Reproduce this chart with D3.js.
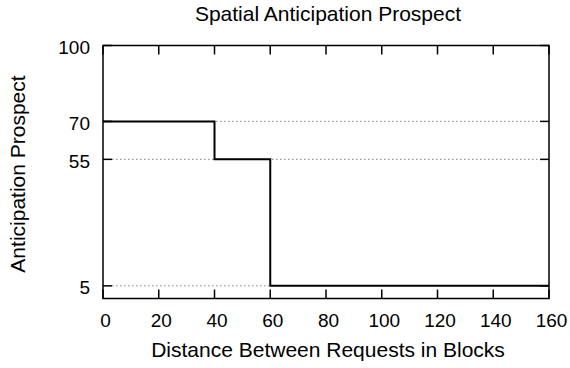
<!DOCTYPE html>
<html>
<head>
<meta charset="utf-8">
<script src="https://cdn.jsdelivr.net/npm/d3@7"></script>
<style>
  body { margin: 0; background: #fff; }
  text { font-family: 'Liberation Sans', Arial, Helvetica, sans-serif; fill: #000; }
</style>
</head>
<body>
<div id="chart"></div>
<script>
const width = 570;
const height = 368;

// step series: value holds from each x until the next one
const distance = [0, 40, 60, 160];
const prospect = [70, 55, 5, 5];

const xTicks = [0, 20, 40, 60, 80, 100, 120, 140, 160];
const yTicks = [5, 55, 70, 100];

const title = 'Spatial Anticipation Prospect';
const xLabel = 'Distance Between Requests in Blocks';
const yLabel = 'Anticipation Prospect';

const margin = { top: 45.5, right: 21, bottom: 69.5, left: 103 };
const plotW = width - margin.left - margin.right;
const plotH = height - margin.top - margin.bottom;
const tickLen = 9;

const svg = d3
  .select('#chart')
  .append('svg')
  .attr('width', width)
  .attr('height', height);

const g = svg
  .append('g')
  .attr('transform', 'translate(' + margin.left + ',' + margin.top + ')');

const x = d3.scaleLinear().domain([0, 160]).range([0, plotW]);
const y = d3.scaleLinear().domain([0, 100]).range([plotH, 0]);

// dotted grid at the y ticks (not the frame edge)
g.selectAll('.grid')
  .data(yTicks.filter((d) => d < 100))
  .enter()
  .append('line')
  .attr('class', 'grid')
  .attr('x1', tickLen)
  .attr('x2', plotW - tickLen)
  .attr('y1', (d) => y(d))
  .attr('y2', (d) => y(d))
  .attr('stroke', '#888')
  .attr('stroke-width', 1)
  .attr('stroke-dasharray', '1.5,2.5');

// ticks, all pointing inward, mirrored on the opposite side
const tickStyle = (sel) => sel.attr('stroke', '#000').attr('stroke-width', 1.5);

g.selectAll('.xtick-b')
  .data(xTicks)
  .enter()
  .append('line')
  .attr('x1', (d) => x(d))
  .attr('x2', (d) => x(d))
  .attr('y1', plotH)
  .attr('y2', plotH - tickLen)
  .call(tickStyle);

g.selectAll('.xtick-t')
  .data(xTicks)
  .enter()
  .append('line')
  .attr('x1', (d) => x(d))
  .attr('x2', (d) => x(d))
  .attr('y1', 0)
  .attr('y2', tickLen)
  .call(tickStyle);

g.selectAll('.ytick-l')
  .data(yTicks)
  .enter()
  .append('line')
  .attr('x1', 0)
  .attr('x2', tickLen)
  .attr('y1', (d) => y(d))
  .attr('y2', (d) => y(d))
  .call(tickStyle);

g.selectAll('.ytick-r')
  .data(yTicks)
  .enter()
  .append('line')
  .attr('x1', plotW)
  .attr('x2', plotW - tickLen)
  .attr('y1', (d) => y(d))
  .attr('y2', (d) => y(d))
  .call(tickStyle);

// the step line
const line = d3
  .line()
  .x((d, i) => x(distance[i]))
  .y((d) => y(d))
  .curve(d3.curveStepAfter);

g.append('path')
  .datum(prospect)
  .attr('d', line)
  .attr('fill', 'none')
  .attr('stroke', '#000')
  .attr('stroke-width', 2);

// frame
g.append('rect')
  .attr('width', plotW)
  .attr('height', plotH)
  .attr('fill', 'none')
  .attr('stroke', '#000')
  .attr('stroke-width', 1.5);

// tick labels
g.selectAll('.xlab')
  .data(xTicks)
  .enter()
  .append('text')
  .attr('x', (d) => x(d) + 2.5)
  .attr('y', plotH + 28.5)
  .attr('text-anchor', 'middle')
  .style('font-size', '19px')
  .text((d) => d);

g.selectAll('.ylab')
  .data(yTicks)
  .enter()
  .append('text')
  .attr('x', -13)
  .attr('y', (d) => y(d) + 8.5)
  .attr('text-anchor', 'end')
  .style('font-size', '19px')
  .text((d) => d);

// titles
svg.append('text')
  .attr('x', margin.left + plotW / 2 + 2)
  .attr('y', 21)
  .attr('text-anchor', 'middle')
  .style('font-size', '21px')
  .text(title);

svg.append('text')
  .attr('x', margin.left + plotW / 2 + 2)
  .attr('y', 357)
  .attr('text-anchor', 'middle')
  .style('font-size', '21px')
  .text(xLabel);

svg.append('text')
  .attr('transform', 'translate(25,' + (margin.top + plotH / 2 + 2) + ') rotate(-90)')
  .attr('text-anchor', 'middle')
  .style('font-size', '21px')
  .text(yLabel);
</script>
</body>
</html>
